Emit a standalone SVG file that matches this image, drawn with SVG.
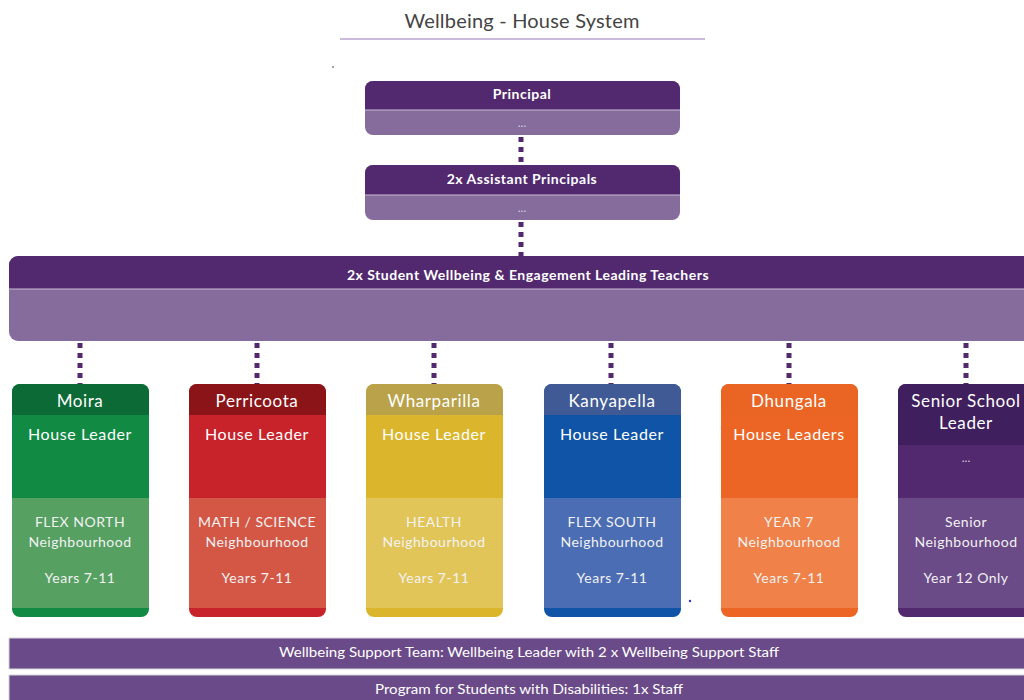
<svg xmlns="http://www.w3.org/2000/svg" width="1024" height="700" viewBox="0 0 1024 700">
<style>
text{font-family:Lato,"Open Sans","Liberation Sans",sans-serif;fill:#fff;text-anchor:middle}
.title{fill:#444;font-size:20px;letter-spacing:0.2px}
.hb{font-weight:bold;font-size:14px;letter-spacing:0.5px}
.dots{font-size:12px;fill:#d8cfe2}
.ct{font-size:17px;letter-spacing:0.6px}
.cl{font-size:16px;letter-spacing:0.6px}
.cs{font-size:14px;fill:#f2f2f2;letter-spacing:0.5px}
.bar{fill:#6a4a88;stroke:#d6d6d6;stroke-width:1}
.bt{font-size:13.5px}
.conn{stroke:#52286f;stroke-width:5;stroke-dasharray:5 5;fill:none}
</style>
<rect width="1024" height="700" fill="#fff"/>
<text class="title" x="522" y="28">Wellbeing - House System</text>
<line x1="340" y1="39" x2="705" y2="39" stroke="#b9a3cf" stroke-width="1.5"/>
<circle cx="333" cy="67" r="0.8" fill="#333"/>
<circle cx="690" cy="601" r="1.2" fill="#3030e0"/>

<g id="connectors">
<line class="conn" x1="521" y1="137" x2="521" y2="165"/>
<line class="conn" x1="521" y1="222" x2="521" y2="256"/>
<line class="conn" x1="80" y1="343" x2="80" y2="384"/>
<line class="conn" x1="257" y1="343" x2="257" y2="384"/>
<line class="conn" x1="434" y1="343" x2="434" y2="384"/>
<line class="conn" x1="611" y1="343" x2="611" y2="384"/>
<line class="conn" x1="789" y1="343" x2="789" y2="384"/>
<line class="conn" x1="966" y1="343" x2="966" y2="384"/>
</g>

<g id="principal">
<rect x="365" y="81" width="315" height="54" rx="8" fill="#856c9c"/>
<path d="M365,110 V89 a8,8 0 0 1 8,-8 H672 a8,8 0 0 1 8,8 V110 Z" fill="#52286f"/>
<line x1="365" y1="110" x2="680" y2="110" stroke="#c9bcd6" stroke-width="1"/>
<text class="hb" x="522" y="99">Principal</text>
<text class="dots" x="522" y="127">...</text>
</g>

<g id="assistant">
<rect x="365" y="165" width="315" height="55" rx="8" fill="#856c9c"/>
<path d="M365,195 V173 a8,8 0 0 1 8,-8 H672 a8,8 0 0 1 8,8 V195 Z" fill="#52286f"/>
<line x1="365" y1="195" x2="680" y2="195" stroke="#c9bcd6" stroke-width="1"/>
<text class="hb" x="522" y="184">2x Assistant Principals</text>
<text class="dots" x="522" y="212">...</text>
</g>

<g id="leading-teachers">
<rect x="9" y="256" width="1030" height="85" rx="9" fill="#856c9c"/>
<path d="M9,289 V265 a9,9 0 0 1 9,-9 H1039 V289 Z" fill="#52286f"/>
<line x1="9" y1="289" x2="1030" y2="289" stroke="#c9bcd6" stroke-width="1"/>
<text class="hb" x="528" y="280">2x Student Wellbeing &amp; Engagement Leading Teachers</text>
</g>

<g id="moira">
<rect x="12" y="384" width="137" height="233" rx="8" fill="#118a43"/>
<path d="M12,415 V392 a8,8 0 0 1 8,-8 H141 a8,8 0 0 1 8,8 V415 Z" fill="#0b6a35"/>
<rect x="12" y="498" width="137" height="110" fill="#56a062"/>
<text class="ct" x="80" y="407">Moira</text>
<text class="cl" x="80" y="440">House Leader</text>
<text class="cs" x="80" y="527">FLEX NORTH</text>
<text class="cs" x="80" y="547">Neighbourhood</text>
<text class="cs" x="80" y="583">Years 7-11</text>
</g>

<g id="perricoota">
<rect x="189" y="384" width="137" height="233" rx="8" fill="#c8222a"/>
<path d="M189,415 V392 a8,8 0 0 1 8,-8 H318 a8,8 0 0 1 8,8 V415 Z" fill="#8a1418"/>
<rect x="189" y="498" width="137" height="110" fill="#d45746"/>
<text class="ct" x="257" y="407">Perricoota</text>
<text class="cl" x="257" y="440">House Leader</text>
<text class="cs" x="257" y="527">MATH / SCIENCE</text>
<text class="cs" x="257" y="547">Neighbourhood</text>
<text class="cs" x="257" y="583">Years 7-11</text>
</g>

<g id="wharparilla">
<rect x="366" y="384" width="137" height="233" rx="8" fill="#dbb62c"/>
<path d="M366,415 V392 a8,8 0 0 1 8,-8 H495 a8,8 0 0 1 8,8 V415 Z" fill="#b9a24a"/>
<rect x="366" y="498" width="137" height="110" fill="#e2c558"/>
<text class="ct" x="434" y="407">Wharparilla</text>
<text class="cl" x="434" y="440">House Leader</text>
<text class="cs" x="434" y="527">HEALTH</text>
<text class="cs" x="434" y="547">Neighbourhood</text>
<text class="cs" x="434" y="583">Years 7-11</text>
</g>

<g id="kanyapella">
<rect x="544" y="384" width="137" height="233" rx="8" fill="#0f54a6"/>
<path d="M544,415 V392 a8,8 0 0 1 8,-8 H673 a8,8 0 0 1 8,8 V415 Z" fill="#3f5a95"/>
<rect x="544" y="498" width="137" height="110" fill="#4b6db4"/>
<text class="ct" x="612" y="407">Kanyapella</text>
<text class="cl" x="612" y="440">House Leader</text>
<text class="cs" x="612" y="527">FLEX SOUTH</text>
<text class="cs" x="612" y="547">Neighbourhood</text>
<text class="cs" x="612" y="583">Years 7-11</text>
</g>

<g id="dhungala">
<rect x="721" y="384" width="137" height="233" rx="8" fill="#ec6525"/>
<path d="M721,415 V392 a8,8 0 0 1 8,-8 H850 a8,8 0 0 1 8,8 V415 Z" fill="#ea6424"/>
<rect x="721" y="498" width="137" height="110" fill="#f08148"/>
<text class="ct" x="789" y="407">Dhungala</text>
<text class="cl" x="789" y="440">House Leaders</text>
<text class="cs" x="789" y="527">YEAR 7</text>
<text class="cs" x="789" y="547">Neighbourhood</text>
<text class="cs" x="789" y="583">Years 7-11</text>
</g>

<g id="senior">
<rect x="898" y="384" width="137" height="233" rx="8" fill="#52286f"/>
<path d="M898,445 V392 a8,8 0 0 1 8,-8 H1027 a8,8 0 0 1 8,8 V445 Z" fill="#3f1f5e"/>
<rect x="898" y="498" width="137" height="110" fill="#6b4a88"/>
<text class="ct" x="966" y="407">Senior School</text>
<text class="ct" x="966" y="429">Leader</text>
<text class="dots" x="966" y="462">...</text>
<text class="cs" x="966" y="527">Senior</text>
<text class="cs" x="966" y="547">Neighbourhood</text>
<text class="cs" x="966" y="583">Year 12 Only</text>
</g>

<g id="support-team">
<rect class="bar" x="9" y="638" width="1030" height="31"/>
<text class="bt" x="529" y="657" textLength="500" lengthAdjust="spacingAndGlyphs">Wellbeing Support Team: Wellbeing Leader with 2 x Wellbeing Support Staff</text>
</g>
<g id="disabilities">
<rect class="bar" x="9" y="675" width="1030" height="30"/>
<text class="bt" x="529" y="694" textLength="308" lengthAdjust="spacingAndGlyphs">Program for Students with Disabilities: 1x Staff</text>
</g>
</svg>
